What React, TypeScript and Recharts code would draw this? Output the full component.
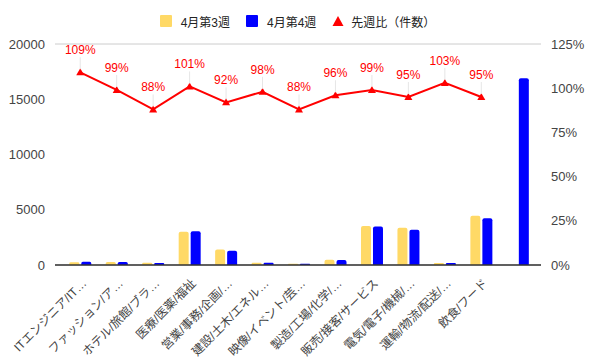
import React from "react";
import {
  ComposedChart,
  Bar,
  Line,
  XAxis,
  YAxis,
  CartesianGrid,
  Legend,
} from "recharts";

const categories = [
  "ITエンジニア/IT…",
  "ファッション/ア…",
  "ホテル/旅館/ブラ…",
  "医療/医薬/福祉",
  "営業/事務/企画/…",
  "建設/土木/エネル…",
  "映像/イベント/芸…",
  "製造/工場/化学/…",
  "販売/接客/サービス",
  "電気/電子/機械/…",
  "運輸/物流/配送/…",
  "飲食/フード",
  "",
];
const week3: (number | null)[] = [260, 280, 210, 3020, 1400, 200, 105, 470, 3520, 3360, 175, 4450, null];
const week4: (number | null)[] = [283, 277, 185, 3050, 1290, 196, 103, 450, 3480, 3190, 180, 4230, 16900];
const ratio: (number | null)[] = [109, 99, 88, 101, 92, 98, 88, 96, 99, 95, 103, 95, null];

const leftTicks = [0, 5000, 10000, 15000, 20000];
const rightTicks = [0, 25, 50, 75, 100, 125];

const seriesNames = ["4月第3週", "4月第4週", "先週比（件数）"];
const colors = ["#ffd966", "#0000ff", "#ff0000"];

const data = categories.map((c, i) => ({
  name: c,
  w3: week3[i],
  w4: week4[i],
  r: ratio[i],
}));

const FONT = "'Liberation Sans', Arial, 'Noto Sans CJK JP', sans-serif";

const XTick = (props: any) => {
  const { x, y, payload } = props;
  const ax = x + 7;
  const ay = y + 11;
  return (
    <text
      x={ax}
      y={ay}
      transform={`rotate(-45, ${ax}, ${ay})`}
      textAnchor="end"
      fontSize={12}
      fill="#444"
      fontFamily={FONT}
    >
      {payload.value}
    </text>
  );
};

const RatioLabel = (props: any) => {
  const { x, y, value } = props;
  if (value == null) return null;
  return (
    <g>
      <line x1={x} y1={y - 15} x2={x} y2={y - 3} stroke="#e6e6e6" strokeWidth={1} />
      <text
        x={x}
        y={y - 18}
        textAnchor="middle"
        fontSize={12}
        fill="#ff0000"
        fontFamily={FONT}
      >
        {value}%
      </text>
    </g>
  );
};

const Triangle = (props: any) => {
  const { cx, cy, payload } = props;
  if (cx == null || cy == null || payload?.r == null) return null;
  return <path d={`M${cx},${cy - 4} L${cx + 4},${cy + 3} L${cx - 4},${cy + 3} Z`} fill="#ff0000" />;
};

const LegendContent = () => (
  <div
    style={{
      display: "flex",
      justifyContent: "center",
      alignItems: "center",
      fontFamily: FONT,
      fontSize: 12,
      color: "#222",
      height: 20,
    }}
  >
    <span style={{ display: "flex", alignItems: "center", marginRight: 16 }}>
      <svg width={12} height={12} style={{ marginRight: 9 }}>
        <rect width={12} height={12} rx={1} fill={colors[0]} />
      </svg>
      {seriesNames[0]}
    </span>
    <span style={{ display: "flex", alignItems: "center", marginRight: 16 }}>
      <svg width={12} height={12} style={{ marginRight: 9 }}>
        <rect width={12} height={12} rx={1} fill={colors[1]} />
      </svg>
      {seriesNames[1]}
    </span>
    <span style={{ display: "flex", alignItems: "center" }}>
      <svg width={12} height={12} style={{ marginRight: 7 }}>
        <path d="M6,1 L11.5,11 L0.5,11 Z" fill={colors[2]} />
      </svg>
      {seriesNames[2]}
    </span>
  </div>
);

export default function App() {
  return (
    <div style={{ position: "absolute", left: 0, top: 0, background: "#fff" }}>
      <ComposedChart
        width={595}
        height={363}
        data={data}
        margin={{ top: 24, right: 0, bottom: 0, left: 0 }}
        barCategoryGap="20%"
        barGap={2}
      >
        <Legend
          verticalAlign="top"
          content={<LegendContent />}
          wrapperStyle={{ top: 11, left: 0, width: 595 }}
        />
        <CartesianGrid vertical={false} stroke="#cccccc" />
        <XAxis
          dataKey="name"
          interval={0}
          tick={<XTick />}
          tickLine={false}
          axisLine={{ stroke: "#333", strokeWidth: 1.5 }}
          height={98}
          padding={{ left: 7, right: 5 }}
        />
        <YAxis
          yAxisId="left"
          domain={[0, 20000]}
          ticks={leftTicks}
          width={55}
          tickLine={false}
          axisLine={false}
          tick={{ fontSize: 13, fill: "#444", fontFamily: FONT }}
          tickMargin={4}
        />
        <YAxis
          yAxisId="right"
          orientation="right"
          domain={[0, 125]}
          ticks={rightTicks}
          width={54}
          tickLine={false}
          axisLine={false}
          tickFormatter={(v: number) => `${v}%`}
          tick={{ fontSize: 13, fill: "#444", fontFamily: FONT, textAnchor: "start" }}
          tickMargin={4}
        />
        <Bar yAxisId="left" dataKey="w3" name={seriesNames[0]} fill={colors[0]} radius={[2, 2, 0, 0]} isAnimationActive={false} />
        <Bar yAxisId="left" dataKey="w4" name={seriesNames[1]} fill={colors[1]} radius={[2, 2, 0, 0]} isAnimationActive={false} />
        <Line
          yAxisId="right"
          dataKey="r"
          name={seriesNames[2]}
          stroke={colors[2]}
          strokeWidth={2}
          dot={<Triangle />}
          activeDot={false}
          label={<RatioLabel />}
          isAnimationActive={false}
        />
      </ComposedChart>
    </div>
  );
}
